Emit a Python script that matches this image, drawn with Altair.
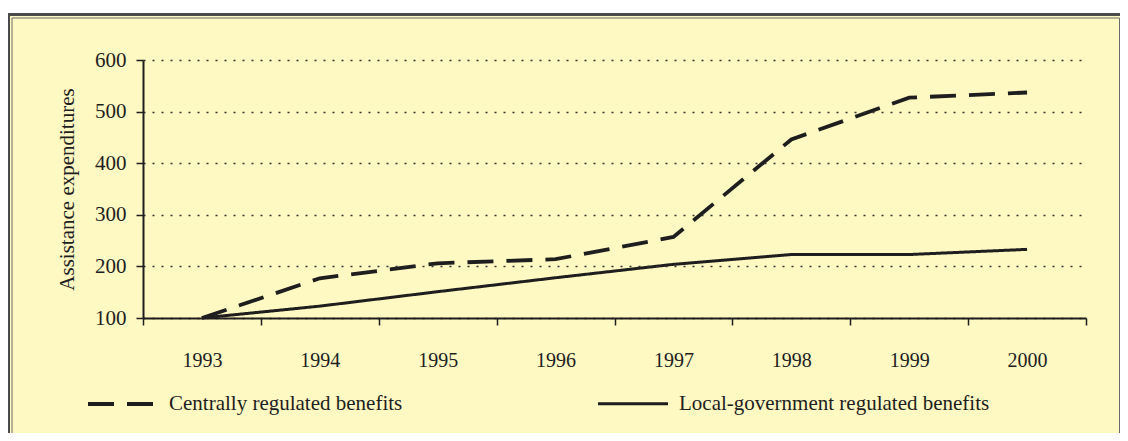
import altair as alt
import pandas as pd

years = ["1993", "1994", "1995", "1996", "1997", "1998", "1999", "2000"]
central = [100, 177, 206, 214, 257, 446, 527, 537]
local = [100, 123, 151, 178, 204, 223, 223, 233]
series_names = ["Centrally regulated benefits", "Local-government regulated benefits"]

rows = []
for y, v in zip(years, central):
    rows.append({"year": y, "value": v, "series": series_names[0]})
for y, v in zip(years, local):
    rows.append({"year": y, "value": v, "series": series_names[1]})
df = pd.DataFrame(rows)

FONT = "Liberation Serif"
BG = "#fef8c2"
INK = "#1e1e1e"

frame_outer = alt.Chart(pd.DataFrame({"k": [0]})).mark_rect(
    fill=BG, stroke="#4a4a4a", strokeWidth=3
).encode(
    x=alt.value(-134.5), x2=alt.value(980), y=alt.value(-45.5), y2=alt.value(400)
)
frame_inner = alt.Chart(pd.DataFrame({"k": [0]})).mark_rect(
    fill=BG, stroke="#6a6a6a", strokeWidth=1
).encode(
    x=alt.value(-131), x2=alt.value(976.5), y=alt.value(-42), y2=alt.value(400)
)

lines = alt.Chart(df).mark_line(color=INK, strokeCap="butt").encode(
    x=alt.X(
        "year:O",
        sort=years,
        bandPosition=0.5,
        scale=alt.Scale(type="band", paddingInner=0, paddingOuter=0),
        axis=alt.Axis(
            title=None,
            tickBand="extent",
            labelFont=FONT,
            labelFontSize=20,
            labelColor=INK,
            labelPadding=25,
            labelAngle=0,
            tickSize=7,
            tickColor=INK,
            tickWidth=1.5,
            domainColor=INK,
            domainWidth=2,
            grid=False,
            zindex=1,
        ),
    ),
    y=alt.Y(
        "value:Q",
        scale=alt.Scale(domain=[100, 600], nice=False, zero=False),
        axis=alt.Axis(
            title="Assistance expenditures",
            titleFont=FONT,
            titleFontSize=21,
            titleFontWeight="normal",
            titleColor=INK,
            titlePadding=17,
            values=[100, 200, 300, 400, 500, 600],
            labelFont=FONT,
            labelFontSize=21,
            labelColor=INK,
            labelPadding=10,
            tickSize=7,
            tickColor=INK,
            tickWidth=1.5,
            domainColor=INK,
            domainWidth=2,
            grid=True,
            gridColor="#333333",
            gridDash=[2, 7],
            gridWidth=1.5,
            zindex=1,
        ),
    ),
    strokeDash=alt.StrokeDash(
        "series:N",
        scale=alt.Scale(domain=series_names, range=[[26, 13], [1, 0]]),
        legend=alt.Legend(
            title=None,
            orient="none",
            legendX=-57,
            legendY=307,
            direction="horizontal",
            columns=2,
            columnPadding=189,
            symbolType="stroke",
            symbolSize=4900,
            symbolStrokeColor=INK,
            symbolStrokeWidth=3.5,
            labelFont=FONT,
            labelFontSize=21,
            labelColor=INK,
            labelOffset=9,
            labelLimit=400,
            padding=0,
        ),
    ),
    strokeWidth=alt.StrokeWidth(
        "series:N",
        scale=alt.Scale(domain=series_names, range=[3.8, 3.0]),
        legend=None,
    ),
)

chart = alt.layer(frame_outer, frame_inner, lines).properties(
    width=943,
    height=258,
    autosize=alt.AutoSizeParams(type="none"),
    padding={"left": 135, "top": 52, "right": 34, "bottom": 115},
    background="white",
).configure_view(stroke=None, fill=None)

chart.save("out.html", embed_options={"renderer": "svg", "actions": False})
